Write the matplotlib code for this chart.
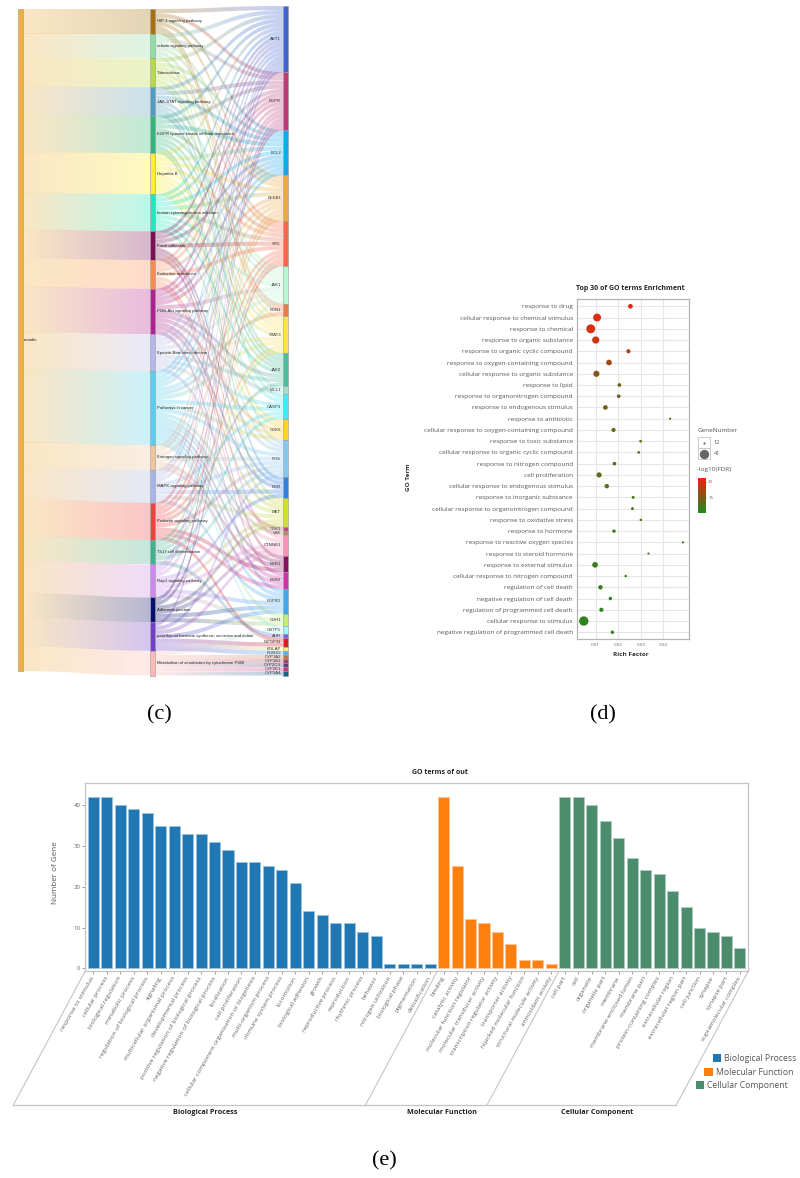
"""
Three panels on one page: (c) Sankey of emodin pathways, (d) GO bubble plot, (e) GO bar chart.
"""

import numpy as np
import matplotlib
matplotlib.use('Agg')
import matplotlib.pyplot as plt
from matplotlib.colors import LinearSegmentedColormap, to_rgb
from matplotlib.patches import PathPatch, Rectangle
from matplotlib.path import Path

W, H = 800, 1178
SANS = ['Open Sans', 'DejaVu Sans']

# ── Panel c data ─────────────────────────────────────────────────────────────
SOURCE = "emodin"
SOURCE_COLOR = "#F0AE3C"

PATHWAYS = [
    "HIF-1 signaling pathway", "relaxin signaling pathway", "Tuberculosis",
    "JAK-STAT signaling pathway", "EGFR tyrosine kinase inhibitor resistance",
    "Hepatitis B", "human cytomegalovirus infection", "Focal adhesion",
    "Endocrine resistance", "PI3K-Akt signaling pathway",
    "Epstein-Barr virus infection", "Pathways in cancer",
    "Estrogen signaling pathway", "MAPK signaling pathway",
    "Prolactin signaling pathway", "Th17 cell differentiation",
    "Rap1 signaling pathway", "Adherens junction",
    "parathyroid hormone synthesis, secretion and action",
    "Metabolism of xenobiotics by cytochrome P450",
]
PATHWAY_COLORS = [
    "#A6700F", "#90DDA8", "#B8DC40", "#4F9DBF", "#2DB87A", "#FFEE30", "#1EE8BE",
    "#7B0F55", "#FF8A50", "#B02090", "#B8B8E8", "#55D0F0", "#EDC79B", "#A8B4E8",
    "#F04040", "#3FB090", "#CC88EE", "#0A0F70", "#7040C8", "#FFB8B8",
]
GENES = [
    "AKT1", "EGFR", "BCL2", "NFKB1", "SRC", "JAK1", "EDN1", "STAT3", "JAK2",
    "MCL1", "CASP3", "CDK6", "FOS", "KDR", "MET", "CDK1", "VIM", "CTNNB1",
    "ESR1", "ESR2", "FGFR1", "CDH1", "GSTP1", "AHR", "INFGF11", "BGLAP", "RUNX2",
    "CYP1A2", "CYP1B1", "CYP2C9", "CYP2E1", "CYP3A4",
]
GENE_COLORS = [
    "#4060D8", "#C03878", "#10A8F0", "#F0A838", "#F86848", "#B8F8D0", "#F07848",
    "#FFE050", "#48C0A0", "#A0E0D0", "#40E8F8", "#FFD030", "#88C8F0", "#3080E0",
    "#D0E030", "#C04880", "#B09060", "#FF90B8", "#881060", "#D030A8", "#40A8F0",
    "#C0F070", "#A0F8F8", "#8060E0", "#D02020", "#F0F080", "#50B0F0", "#C87050",
    "#A04060", "#504880", "#D03080", "#106090",
]
LINKS = [
    ["AKT1", "EGFR", "BCL2", "NFKB1", "STAT3", "EDN1"],
    ["AKT1", "EGFR", "SRC", "NFKB1", "FOS", "EDN1"],
    ["AKT1", "BCL2", "NFKB1", "SRC", "JAK1", "JAK2", "CASP3"],
    ["AKT1", "EGFR", "BCL2", "JAK1", "STAT3", "JAK2", "MCL1"],
    ["AKT1", "EGFR", "BCL2", "SRC", "JAK1", "STAT3", "JAK2", "KDR", "MET"],
    ["AKT1", "BCL2", "NFKB1", "SRC", "JAK1", "STAT3", "CASP3", "CDK6", "FOS", "JAK2"],
    ["AKT1", "EGFR", "BCL2", "NFKB1", "SRC", "JAK1", "STAT3", "JAK2", "CDK6"],
    ["AKT1", "EGFR", "BCL2", "SRC", "KDR", "MET", "CTNNB1"],
    ["AKT1", "EGFR", "BCL2", "SRC", "ESR1", "ESR2", "FOS"],
    ["AKT1", "EGFR", "BCL2", "NFKB1", "JAK1", "JAK2", "MCL1", "CDK6", "KDR", "MET", "FGFR1"],
    ["AKT1", "BCL2", "NFKB1", "JAK1", "STAT3", "JAK2", "CASP3", "CDK6", "CDK1"],
    ["AKT1", "EGFR", "BCL2", "NFKB1", "JAK1", "EDN1", "STAT3", "CASP3", "CDK6", "FOS",
     "MET", "VIM", "CTNNB1", "ESR1", "ESR2", "FGFR1", "CDH1", "GSTP1"],
    ["AKT1", "EGFR", "SRC", "FOS", "ESR1", "ESR2"],
    ["AKT1", "EGFR", "NFKB1", "CASP3", "FOS", "KDR", "MET", "FGFR1"],
    ["AKT1", "SRC", "STAT3", "JAK2", "FOS", "ESR1", "ESR2", "NFKB1", "INFGF11"],
    ["NFKB1", "JAK1", "STAT3", "CASP3", "FOS", "AHR"],
    ["AKT1", "EGFR", "SRC", "KDR", "MET", "CTNNB1", "CDH1", "FGFR1"],
    ["EGFR", "SRC", "MET", "CTNNB1", "CDH1", "FGFR1"],
    ["EGFR", "FOS", "CTNNB1", "FGFR1", "INFGF11", "BGLAP", "RUNX2"],
    ["GSTP1", "CYP1A2", "CYP1B1", "CYP2C9", "CYP2E1", "CYP3A4"],
]

# ── Panel d data ─────────────────────────────────────────────────────────────
GO_TERMS = [
    "response to drug", "cellular response to chemical stimulus", "response to chemical",
    "response to organic substance", "response to organic cyclic compound",
    "response to oxygen-containing compound", "cellular response to organic substance",
    "response to lipid", "response to organonitrogen compound",
    "response to endogenous stimulus", "response to antibiotic",
    "cellular response to oxygen-containing compound", "response to toxic substance",
    "cellular response to organic cyclic compound", "response to nitrogen compound",
    "cell proliferation", "cellular response to endogenous stimulus",
    "response to inorganic substance", "cellular response to organonitrogen compound",
    "response to oxidative stress", "response to hormone",
    "response to reactive oxygen species", "response to steroid hormone",
    "response to external stimulus", "cellular response to nitrogen compound",
    "regulation of cell death", "negative regulation of cell death",
    "regulation of programmed cell death", "cellular response to stimulus",
    "negative regulation of programmed cell death",
]
RICH_FACTOR = [
    0.0254, 0.0106, 0.0078, 0.0100, 0.0245, 0.0159, 0.0103, 0.0205, 0.0202, 0.0143,
    0.0430, 0.0179, 0.0299, 0.0291, 0.0183, 0.0115, 0.0149, 0.0266, 0.0263, 0.0300,
    0.0181, 0.0487, 0.0334, 0.0097, 0.0233, 0.0121, 0.0165, 0.0125, 0.0047, 0.0174,
]
GENE_NUMBER = [
    22, 35, 39, 32, 20, 26, 28, 18, 18, 22,
    12, 20, 14, 14, 18, 24, 21, 15, 15, 13,
    17, 12, 12, 26, 13, 21, 17, 20, 41, 17,
]
LOG_FDR = [
    21.0, 20.0, 19.5, 19.0, 17.5, 17.0, 15.5, 14.5, 14.5, 14.5,
    14.0, 14.0, 14.0, 13.5, 13.5, 13.0, 13.0, 12.5, 12.5, 12.5,
    12.0, 12.0, 12.0, 11.8, 11.5, 11.5, 11.0, 11.0, 11.0, 11.0,
]

# ── Panel e data ─────────────────────────────────────────────────────────────
BP_TERMS = [
    "response to stimulus", "cellular process", "biological regulation", "metabolic process",
    "regulation of biological process", "signaling", "multicellular organismal process",
    "developmental process", "positive regulation of biological process",
    "negative regulation of biological process", "localization", "cell proliferation",
    "cellular component organization or biogenesis", "multi-organism process",
    "immune system process", "locomotion", "biological adhesion", "growth",
    "reproductive process", "reproduction", "rhythmic process", "behavior",
    "nitrogen utilization", "biological phase", "pigmentation", "detoxification",
]
BP_COUNTS = [42, 42, 40, 39, 38, 35, 35, 33, 33, 31, 29, 26, 26, 25, 24, 21, 14, 13, 11, 11, 9, 8, 1, 1, 1, 1]
MF_TERMS = [
    "binding", "catalytic activity", "molecular function regulator",
    "molecular transducer activity", "transcription regulator activity", "transporter activity",
    "hijacked molecular function", "structural molecule activity", "antioxidant activity",
]
MF_COUNTS = [42, 25, 12, 11, 9, 6, 2, 2, 1]
CC_TERMS = [
    "cell part", "cell", "organelle", "organelle part", "membrane", "membrane-enclosed lumen",
    "membrane part", "protein-containing complex", "extracellular region",
    "extracellular region part", "cell junction", "synapse", "synapse part",
    "supramolecular complex",
]
CC_COUNTS = [42, 42, 40, 36, 32, 27, 24, 23, 19, 15, 10, 9, 8, 5]
GROUP_NAMES = ["Biological Process", "Molecular Function", "Cellular Component"]
GROUP_COLORS = ["#1F77B4", "#FF7F0E", "#4A8C6C"]

fig = plt.figure(figsize=(W / 100, H / 100), dpi=100, facecolor='white')


def px_axes(left, top, right, bottom):
    """Axes placed with page pixel coordinates."""
    return fig.add_axes([left / W, 1 - bottom / H, (right - left) / W, (bottom - top) / H])


# page layer, one unit is one pixel, y pointing down
page = fig.add_axes([0, 0, 1, 1])
page.set_xlim(0, W)
page.set_ylim(H, 0)
page.set_autoscale_on(False)
page.axis('off')


# ── Panel c ──────────────────────────────────────────────────────────────────
def ribbon(ax, x0, x1, y0, y1, thick, c0, c1, alpha=0.3, steps=40):
    """Link as a bezier ribbon, filled by a horizontal gradient clipped to its outline."""
    t = np.linspace(0, 1, steps + 1)
    xm = (x0 + x1) / 2
    x = (1-t)**3 * x0 + 3*(1-t)**2*t * xm + 3*(1-t)*t**2 * xm + t**3 * x1
    y = (1-t)**3 * y0 + 3*(1-t)**2*t * y0 + 3*(1-t)*t**2 * y1 + t**3 * y1
    outline = np.vstack([np.column_stack([x, y]), np.column_stack([x, y + thick])[::-1]])
    grad = np.ones((1, 64, 4))
    f = np.linspace(0, 1, 64)[:, None]
    grad[0, :, :3] = np.array(to_rgb(c0)) * (1 - f) + np.array(to_rgb(c1)) * f
    grad[0, :, 3] = alpha
    im = ax.imshow(grad, extent=[x0, x1, max(y0, y1) + thick, min(y0, y1)], aspect='auto',
                   interpolation='bilinear', zorder=1)
    im.set_clip_path(PathPatch(Path(outline), transform=ax.transData))


def node(ax, x0, x1, y0, y1, color):
    ax.add_patch(Rectangle((x0, y0), x1 - x0, y1 - y0, facecolor=color,
                           edgecolor='#9a9a9a', linewidth=0.4, zorder=3))


X_SRC = (18, 23)
X_MID = (150, 155)
X_GENE = (283, 288)
TOP_SRC, BOTTOM_SRC = 9, 671
TOP_MID, BOTTOM_MID = 9, 675.5
TOP_GENE, BOTTOM_GENE = 6, 675.5

path_sizes = [len(g) for g in LINKS]
gene_sizes = [sum(g in genes for genes in LINKS) for g in GENES]
n_links = sum(path_sizes)
unit_mid = (BOTTOM_MID - TOP_MID) / n_links
unit_gene = (BOTTOM_GENE - TOP_GENE) / n_links
unit_src = (BOTTOM_SRC - TOP_SRC) / n_links

path_tops = TOP_MID + unit_mid * np.concatenate([[0], np.cumsum(path_sizes)[:-1]])
gene_tops = TOP_GENE + unit_gene * np.concatenate([[0], np.cumsum(gene_sizes)[:-1]])

# emodin to pathways
y_src = TOP_SRC
for i, color in enumerate(PATHWAY_COLORS):
    ribbon(page, X_SRC[1], X_MID[0], y_src, path_tops[i], path_sizes[i] * unit_mid, SOURCE_COLOR, color)
    y_src += path_sizes[i] * unit_src

# pathways to genes, stacked by the order of the other end at both nodes
gene_fill = [0] * len(GENES)
for i, genes in enumerate(LINKS):
    ordered = sorted(genes, key=GENES.index)
    for k, g in enumerate(ordered):
        j = GENES.index(g)
        ya = path_tops[i] + k * unit_mid
        yb = gene_tops[j] + gene_fill[j] * unit_gene
        gene_fill[j] += 1
        ribbon(page, X_MID[1], X_GENE[0], ya, yb, unit_mid, PATHWAY_COLORS[i], GENE_COLORS[j])

node(page, *X_SRC, TOP_SRC, BOTTOM_SRC, SOURCE_COLOR)
page.text(24, (TOP_SRC + BOTTOM_SRC) / 2, SOURCE, fontsize=3.1, family='Liberation Sans',
          va='center', color='#222222', zorder=4)
for i, name in enumerate(PATHWAYS):
    y0 = path_tops[i]
    y1 = y0 + path_sizes[i] * unit_mid
    node(page, *X_MID, y0, y1, PATHWAY_COLORS[i])
    page.text(157, (y0 + y1) / 2, name, fontsize=3.1, family='Liberation Sans',
              va='center', color='#222222', zorder=4)
for j, name in enumerate(GENES):
    y0 = gene_tops[j]
    y1 = y0 + gene_sizes[j] * unit_gene
    node(page, *X_GENE, y0, y1, GENE_COLORS[j])
    page.text(281, (y0 + y1) / 2, name, fontsize=3.1, family='Liberation Sans',
              va='center', ha='right', color='#333333', zorder=4)

# ── Panel d ──────────────────────────────────────────────────────────────────
fdr_cmap = LinearSegmentedColormap.from_list("fdr", ["#1F8A1F", "#F5200F"])
FDR_MIN, FDR_MAX = 10.2, 21.2


def bubble_area(n):
    """GeneNumber to marker area, 12 genes about 2.2 px across and 41 about 9.4 px."""
    d_px = 2.2 + (np.asarray(n, dtype=float) - 12) / 29 * 7.2
    return (d_px * 0.72) ** 2


ax_d = px_axes(577, 299, 689, 639)
rows = np.arange(len(GO_TERMS))
ax_d.scatter(RICH_FACTOR, rows, s=bubble_area(GENE_NUMBER), c=LOG_FDR, cmap=fdr_cmap,
             vmin=FDR_MIN, vmax=FDR_MAX, linewidths=0, zorder=3)
ax_d.set_xlim(0.00169, 0.0514)
ax_d.set_ylim(29.6, -0.65)
ax_d.set_yticks(rows)
ax_d.set_yticklabels(GO_TERMS, fontsize=4.6, color='#555555', family=SANS)
ax_d.set_xticks([0.01, 0.02, 0.03, 0.04])
ax_d.set_xticklabels(["0.01", "0.02", "0.03", "0.04"], fontsize=3.2, color='#666666', family=SANS)
ax_d.tick_params(axis='both', length=0, pad=3)
ax_d.grid(True, color='#e6e6e6', linewidth=0.8)
ax_d.set_axisbelow(True)
for sp in ax_d.spines.values():
    sp.set_color('#b4b4b4')
    sp.set_linewidth(0.9)

page.text(630, 288, "Top 30 of GO terms Enrichment", fontsize=5, fontweight='bold', family=SANS,
          ha='center', va='center', color='#222222')
page.text(631, 655, "Rich Factor", fontsize=4.6, fontweight='bold', family=SANS,
          ha='center', va='center', color='#333333')
page.text(409, 477, "GO Term", fontsize=4.6, fontweight='bold', family=SANS, rotation=90,
          ha='center', va='center', color='#333333')

page.text(698, 430, "GeneNumber", fontsize=4.6, family=SANS, va='center', color='#555555')
for y0, n in zip((437, 448), (12, 41)):
    page.add_patch(Rectangle((698, y0), 12, 11, facecolor='white', edgecolor='#c4c4c4', linewidth=0.6))
    page.scatter([704], [y0 + 5.5], s=bubble_area(n), c='#666666', linewidths=0, zorder=3)
    page.text(714, y0 + 5.5, str(n), fontsize=4, family=SANS, va='center', color='#555555')

page.text(698, 470, "-log10(FDR)", fontsize=4.6, family=SANS, va='center', color='#555555')
ax_cb = px_axes(698, 478, 705, 513)
ax_cb.imshow(np.linspace(1, 0, 64)[:, None], cmap=fdr_cmap, aspect='auto',
             extent=[0, 1, FDR_MIN, FDR_MAX])
ax_cb.set_xticks([])
ax_cb.yaxis.tick_right()
ax_cb.set_yticks([15, 20])
ax_cb.set_yticklabels(["15", "20"], fontsize=3.2, color='#666666', family=SANS)
ax_cb.tick_params(axis='y', length=1.2, width=0.3, pad=1, color='#666666')
for sp in ax_cb.spines.values():
    sp.set_visible(False)

# ── Panel e ──────────────────────────────────────────────────────────────────
terms = BP_TERMS + MF_TERMS + CC_TERMS
counts = BP_COUNTS + MF_COUNTS + CC_COUNTS
group_sizes = [len(BP_TERMS), len(MF_TERMS), len(CC_TERMS)]
bar_colors = []
for size, color in zip(group_sizes, GROUP_COLORS):
    bar_colors += [color] * size
bar_x = np.arange(len(terms))

ax_e = px_axes(85.3, 782.7, 748.3, 971)
edge = [tuple(np.array(to_rgb(c)) * 0.45 + 0.55) for c in bar_colors]
ax_e.bar(bar_x, counts, width=0.82, color=bar_colors, edgecolor=edge, linewidth=0.7)
ax_e.set_xlim(-0.594, 48.62)
ax_e.set_ylim(-0.66, 45.5)
ax_e.set_yticks([0, 10, 20, 30, 40])
ax_e.set_yticklabels(["0", "10", "20", "30", "40"], fontsize=4.4, color='#666666', family=SANS)
ax_e.set_xticks(bar_x)
ax_e.set_xticklabels(terms, fontsize=4.6, color='#666666', family=SANS, rotation=60,
                     ha='right', va='center', rotation_mode='anchor')
ax_e.tick_params(axis='x', length=2.2, width=0.5, pad=2, color='#777777')
ax_e.tick_params(axis='y', length=2, width=0.5, pad=1.5, color='#777777')
for sp in ax_e.spines.values():
    sp.set_color('#c4c4c4')
    sp.set_linewidth(0.9)

page.text(440, 772, "GO terms of out", fontsize=5, fontweight='bold', family=SANS,
          ha='center', va='center', color='#222222')
page.text(55.7, 873, "Number of Gene", fontsize=5.8, family=SANS, rotation=90,
          ha='center', va='center', color='#555555')

# slanted brackets under the ticks
BRACKET_TOP, BRACKET_BOTTOM, BRACKET_DX = 971, 1105, 72
edges_x = [85.3, 437.5, 559, 748.3]
for x in edges_x:
    page.plot([x, x - BRACKET_DX], [BRACKET_TOP, BRACKET_BOTTOM], color='#c4c4c4', linewidth=0.8)
page.plot([edges_x[0] - BRACKET_DX, edges_x[-1] - BRACKET_DX], [BRACKET_BOTTOM] * 2,
          color='#c4c4c4', linewidth=0.9)
for name, x in zip(GROUP_NAMES, (205, 441.7, 596.7)):
    page.text(x, 1113, name, fontsize=5.2, fontweight='bold', family=SANS,
              ha='center', va='center', color='#222222')

for name, color, x_sq, y_c in zip(GROUP_NAMES, GROUP_COLORS, (712.7, 704.3, 696), (1058, 1071.7, 1085)):
    page.add_patch(Rectangle((x_sq, y_c - 4), 8.3, 8, facecolor=color, edgecolor='none'))
    page.text(x_sq + 11.3, y_c + 0.7, name, fontsize=6.2, family=SANS, va='center', color='#555555')

# ── Panel letters ────────────────────────────────────────────────────────────
for label, x, y in (("(c)", 159, 715), ("(d)", 603, 715), ("(e)", 384, 1161)):
    page.text(x, y, label, fontsize=16, family='Liberation Serif', ha='center', va='center', color='black')

fig.savefig("out.png", dpi=100)
